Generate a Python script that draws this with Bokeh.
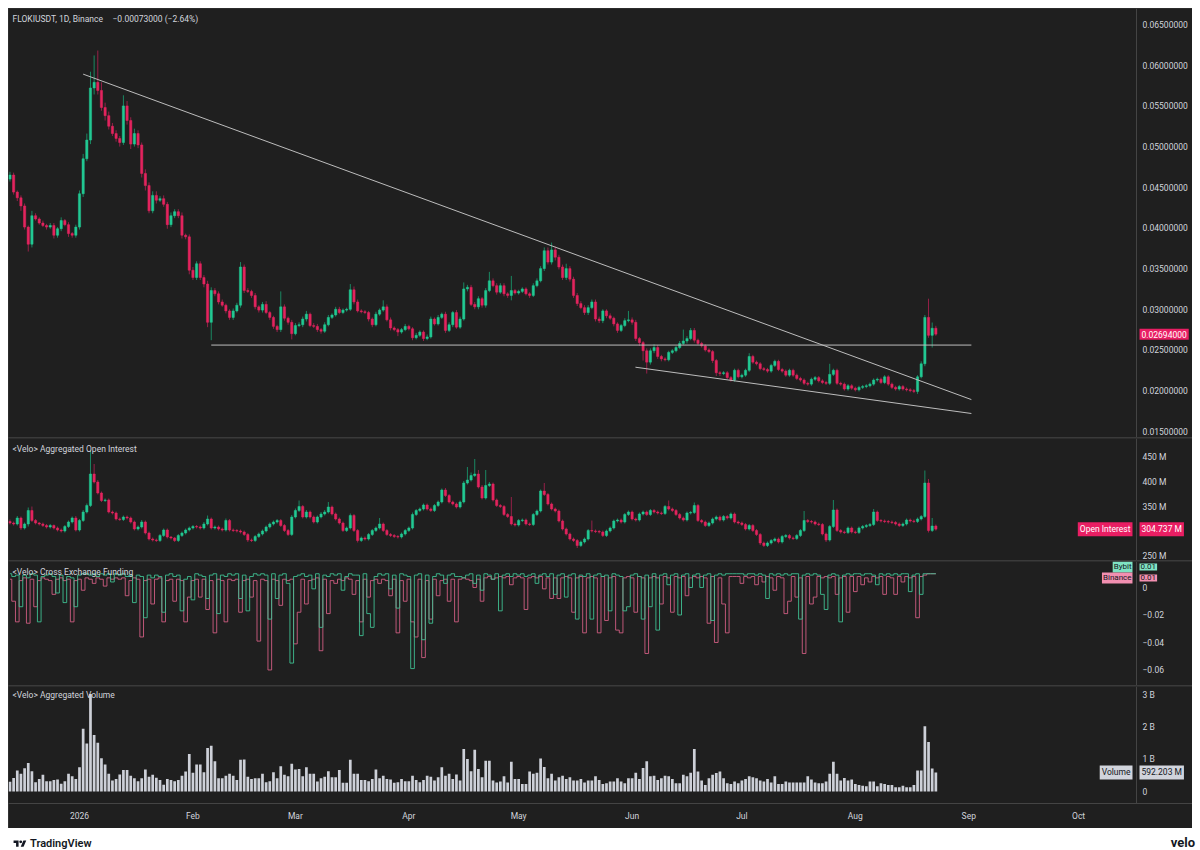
import datetime as dt
import numpy as np
from bokeh.plotting import figure
from bokeh.models import (Range1d, ColumnDataSource, Label, FixedTicker, NumeralTickFormatter,
                          Div, LinearAxis)
from bokeh.layouts import column
from bokeh.embed import file_html
from bokeh.resources import INLINE

# ---------------- data ----------------
symbol_title = "FLOKIUSDT, 1D, Binance"
change_text = "\u22120.00073000 (\u22122.64%)"
axis_origin_date = "2026-01-01"
first_candle_date = "2025-12-13"
view_days = (-19.4, 304.13)      # visible time window (incl. price-scale strip)
price_scale_day = 288.83         # where the price scale starts

month_tick_dates = ["2026-01-01", "2026-02-01", "2026-03-01", "2026-04-01", "2026-05-01",
                    "2026-06-01", "2026-07-01", "2026-08-01", "2026-09-01", "2026-10-01"]
month_tick_labels = ["2026", "Feb", "Mar", "Apr", "May", "Jun", "Jul", "Aug", "Sep", "Oct"]

price_ticks = [0.015, 0.020, 0.025, 0.030, 0.035, 0.040, 0.045, 0.050, 0.055, 0.060, 0.065]
oi_ticks = [250, 350, 400, 450]
oi_tick_labels = ["250 M", "350 M", "400 M", "450 M"]
funding_ticks = [0, -20, -40, -60]          # units of 0.001
funding_tick_labels = ["0", "\u22120.02", "\u22120.04", "\u22120.06"]
volume_ticks = [0, 1, 2, 3]                 # billions
volume_tick_labels = ["0", "1 B", "2 B", "3 B"]

price_first_open = 0.0460
price_close = [
    0.0465, 0.0444, 0.0437, 0.0427, 0.0401, 0.0380, 0.0415, 0.0411, 0.0406, 0.0403,
    0.0401, 0.0403, 0.0391, 0.0399, 0.0409, 0.0404, 0.0393, 0.0391, 0.0401,
    0.0442, 0.0485, 0.0508, 0.0572, 0.0579, 0.0569, 0.0548, 0.0538, 0.0525, 0.0516,
    0.0510, 0.0505, 0.0550, 0.0532, 0.0503, 0.0516, 0.0502, 0.0467, 0.0452, 0.0421,
    0.0440, 0.0434, 0.0436, 0.0429, 0.0404, 0.0415, 0.0420, 0.0415, 0.0391, 0.0389,
    0.0348, 0.0339, 0.0356, 0.0339, 0.0331, 0.0284, 0.0323, 0.0319, 0.0309, 0.0305,
    0.0298, 0.0290, 0.0298, 0.0305, 0.0352, 0.0323, 0.0322, 0.0317, 0.0303, 0.0299,
    0.0306, 0.0296, 0.0290, 0.0279, 0.0275, 0.0303, 0.0289, 0.0284, 0.0270, 0.0280,
    0.0281, 0.0288, 0.0294, 0.0280, 0.0279, 0.0275, 0.0273, 0.0281, 0.0290, 0.0293,
    0.0300, 0.0296, 0.0299, 0.0300, 0.0324, 0.0309, 0.0298, 0.0297, 0.0296, 0.0288,
    0.0281, 0.0294, 0.0299, 0.0303, 0.0287, 0.0277, 0.0275, 0.0272, 0.0275, 0.0279,
    0.0276, 0.0265, 0.0268, 0.0272, 0.0264, 0.0266, 0.0288, 0.0282, 0.0290, 0.0294,
    0.0274, 0.0281, 0.0296, 0.0278, 0.0288, 0.0325, 0.0327, 0.0306, 0.0303, 0.0313,
    0.0305, 0.0323, 0.0335, 0.0329, 0.0321, 0.0329, 0.0319, 0.0317, 0.0323, 0.0320,
    0.0322, 0.0325, 0.0319, 0.0317, 0.0329, 0.0335, 0.0350, 0.0372, 0.0358, 0.0373,
    0.0364, 0.0352, 0.0339, 0.0350, 0.0337, 0.0317, 0.0307, 0.0302, 0.0296, 0.0302,
    0.0309, 0.0288, 0.0286, 0.0298, 0.0292, 0.0289, 0.0282, 0.0274, 0.0280, 0.0286,
    0.0287, 0.0284, 0.0264, 0.0259, 0.0249, 0.0235, 0.0249, 0.0253, 0.0242, 0.0239,
    0.0238, 0.0247, 0.0249, 0.0253, 0.0258, 0.0261, 0.0264, 0.0274, 0.0262, 0.0258,
    0.0255, 0.0250, 0.0248, 0.0237, 0.0222, 0.0221, 0.0222, 0.0216, 0.0213, 0.0225,
    0.0217, 0.0219, 0.0225, 0.0242, 0.0235, 0.0233, 0.0227, 0.0226, 0.0224, 0.0231,
    0.0236, 0.0226, 0.0224, 0.0219, 0.0225, 0.0219, 0.0215, 0.0213, 0.0209, 0.0208,
    0.0214, 0.0216, 0.0212, 0.0210, 0.0209, 0.0220, 0.0225, 0.0209, 0.0208, 0.0202,
    0.0206, 0.0203, 0.0201, 0.0204, 0.0205, 0.0206, 0.0208, 0.0213, 0.0214, 0.0210,
    0.0217, 0.0208, 0.0204, 0.0202, 0.0205, 0.0202, 0.0201, 0.0200, 0.0199, 0.0217,
    0.0233, 0.0290, 0.0268, 0.02767, 0.02694]
# wick extents in units of 0.0001
price_wick_up = [
    4, 3, 2, 3, 3, 2, 6, 3, 2, 3,
    2, 3, 3, 2, 4, 2, 3, 2, 3,
    4, 6, 8, 20, 33, 39, 10, 6, 5, 4,
    4, 3, 13, 6, 4, 6, 4, 3, 5, 4,
    5, 5, 3, 4, 3, 4, 3, 3, 4, 2,
    3, 4, 3, 3, 3, 4, 4, 3, 3, 3,
    2, 2, 3, 3, 6, 3, 3, 2, 3, 2,
    3, 4, 2, 2, 2, 19, 3, 2, 3, 3,
    3, 3, 4, 2, 3, 3, 2, 3, 3, 2,
    3, 3, 2, 2, 7, 4, 3, 2, 2, 2,
    2, 3, 2, 8, 3, 3, 2, 2, 2, 3,
    2, 2, 3, 2, 2, 3, 3, 2, 3, 2,
    3, 3, 2, 3, 3, 8, 3, 3, 3, 3,
    2, 3, 11, 3, 3, 3, 3, 2, 18, 2,
    2, 2, 2, 2, 3, 3, 3, 4, 4, 9,
    4, 3, 3, 6, 3, 3, 3, 3, 3, 3,
    3, 3, 3, 2, 2, 3, 2, 2, 2, 3,
    11, 3, 3, 2, 2, 3, 3, 4, 3, 2,
    2, 2, 2, 2, 3, 14, 3, 3, 3, 2,
    2, 2, 2, 2, 2, 2, 2, 2, 2, 2,
    2, 2, 2, 4, 2, 2, 2, 2, 2, 2,
    2, 2, 2, 2, 2, 2, 2, 2, 2, 2,
    2, 2, 2, 2, 2, 13, 2, 2, 2, 2,
    2, 2, 2, 2, 2, 2, 2, 2, 2, 2,
    2, 2, 2, 2, 2, 2, 2, 2, 2, 2,
    3, 3, 23, 7, 3]
price_wick_dn = [
    3, 3, 4, 6, 3, 9, 4, 2, 2, 2,
    3, 2, 4, 3, 3, 2, 4, 3, 3,
    3, 4, 3, 5, 8, 5, 4, 6, 4, 3,
    4, 5, 3, 5, 6, 3, 4, 5, 6, 3,
    3, 4, 2, 3, 5, 3, 3, 3, 4, 3,
    5, 3, 3, 3, 4, 6, 22, 3, 3, 2,
    3, 3, 3, 2, 3, 3, 2, 3, 3, 3,
    3, 2, 3, 3, 3, 3, 3, 3, 7, 2,
    2, 3, 3, 2, 2, 3, 3, 2, 2, 2,
    2, 2, 2, 2, 2, 3, 2, 2, 2, 3,
    3, 2, 2, 2, 2, 3, 2, 5, 2, 2,
    2, 3, 2, 2, 3, 2, 2, 2, 2, 2,
    3, 2, 3, 2, 2, 2, 3, 2, 3, 3,
    3, 3, 2, 2, 3, 2, 3, 3, 6, 2,
    2, 2, 2, 3, 2, 2, 2, 3, 3, 3,
    4, 3, 3, 3, 3, 3, 3, 2, 3, 3,
    2, 3, 3, 3, 3, 2, 3, 3, 2, 2,
    2, 3, 3, 4, 12, 14, 3, 3, 3, 3,
    2, 2, 2, 2, 2, 2, 3, 2, 3, 2,
    2, 2, 2, 3, 4, 3, 2, 2, 2, 2,
    2, 2, 2, 2, 2, 2, 2, 2, 2, 2,
    2, 2, 2, 2, 2, 2, 2, 2, 2, 2,
    2, 2, 2, 2, 2, 2, 2, 2, 2, 2,
    2, 2, 2, 2, 2, 2, 2, 2, 2, 2,
    2, 2, 2, 2, 2, 2, 2, 2, 2, 3,
    2, 3, 3, 15, 2]

oi_first_open = 320
oi_close = [
    317, 315, 327, 307, 315, 342, 322, 317, 315, 312,
    309, 312, 307, 303, 301, 310, 319, 327, 303,
    322, 339, 352, 415, 399, 377, 362, 363, 339, 337,
    325, 324, 329, 327, 319, 305, 309, 319, 297, 285,
    283, 282, 292, 303, 289, 287, 282, 292, 297, 303,
    307, 310, 309, 307, 315, 325, 307, 309, 305, 303,
    322, 303, 302, 301, 299, 294, 283, 282, 290, 295,
    301, 309, 315, 319, 322, 312, 302, 294, 329, 342,
    350, 329, 339, 329, 319, 329, 335, 339, 349, 335,
    325, 317, 302, 307, 332, 302, 282, 287, 285, 294,
    302, 307, 315, 302, 294, 292, 290, 289, 295, 302,
    307, 334, 342, 345, 353, 345, 342, 352, 359, 383,
    372, 359, 355, 349, 359, 397, 403, 412, 415, 389,
    367, 392, 395, 363, 352, 350, 334, 330, 315, 313,
    322, 323, 315, 314, 334, 341, 381, 374, 355, 345,
    341, 321, 305, 295, 285, 282, 272, 279, 285, 302,
    301, 300, 299, 292, 301, 307, 321, 323, 319, 334,
    339, 325, 323, 335, 339, 334, 342, 339, 337, 336,
    350, 345, 342, 334, 327, 323, 337, 338, 352, 322,
    319, 312, 317, 325, 329, 323, 330, 327, 335, 319,
    317, 314, 305, 312, 302, 294, 277, 272, 277, 282,
    285, 279, 290, 292, 287, 286, 292, 302, 322, 320,
    319, 315, 314, 295, 283, 310, 343, 302, 299, 298,
    307, 299, 298, 307, 310, 312, 314, 339, 322, 321,
    320, 319, 318, 315, 312, 315, 323, 321, 320, 325,
    330, 397, 302, 311, 304.737]
# OI wicks in millions
oi_wick_up = [
    4, 3, 4, 3, 3, 6, 8, 3, 2, 3,
    3, 3, 2, 3, 3, 3, 3, 3, 4,
    3, 4, 4, 47, 20, 4, 3, 3, 3, 3,
    3, 3, 3, 3, 3, 3, 3, 4, 3, 3,
    3, 3, 3, 3, 3, 2, 2, 3, 3, 3,
    3, 3, 3, 3, 4, 7, 3, 3, 3, 3,
    4, 3, 3, 3, 3, 3, 3, 3, 3, 3,
    3, 3, 3, 3, 3, 3, 3, 3, 4, 4,
    12, 3, 4, 3, 3, 3, 4, 4, 10, 3,
    3, 3, 3, 3, 4, 3, 3, 3, 3, 3,
    3, 3, 12, 3, 3, 3, 3, 3, 3, 3,
    3, 4, 3, 3, 3, 3, 3, 3, 3, 3,
    4, 3, 3, 3, 3, 4, 26, 6, 30, 8,
    4, 31, 4, 3, 3, 3, 3, 3, 39, 3,
    3, 3, 3, 3, 3, 3, 3, 16, 3, 3,
    3, 3, 3, 3, 3, 3, 3, 3, 3, 3,
    20, 3, 3, 3, 3, 3, 3, 3, 3, 3,
    3, 3, 3, 3, 3, 3, 3, 3, 3, 3,
    3, 12, 3, 3, 3, 3, 3, 3, 6, 3,
    3, 3, 3, 3, 3, 3, 3, 3, 3, 3,
    3, 3, 3, 3, 3, 3, 3, 3, 3, 3,
    3, 3, 3, 3, 3, 3, 3, 3, 19, 3,
    3, 3, 3, 3, 3, 3, 20, 3, 3, 3,
    3, 3, 3, 3, 3, 3, 3, 6, 3, 3,
    3, 3, 3, 3, 3, 3, 3, 3, 3, 3,
    3, 25, 8, 16, 3]
oi_wick_dn = [
    3, 3, 3, 4, 3, 5, 3, 3, 3, 3,
    3, 3, 3, 3, 3, 3, 3, 3, 3,
    3, 3, 3, 3, 3, 3, 3, 3, 3, 3,
    3, 3, 3, 3, 3, 3, 3, 3, 3, 3,
    3, 3, 3, 3, 3, 3, 3, 3, 3, 3,
    3, 3, 3, 3, 3, 3, 3, 3, 3, 3,
    3, 3, 3, 3, 3, 3, 4, 3, 3, 3,
    3, 3, 3, 3, 3, 3, 3, 3, 3, 3,
    3, 3, 3, 3, 3, 3, 3, 3, 3, 3,
    3, 3, 3, 3, 3, 3, 4, 3, 3, 3,
    3, 3, 3, 3, 3, 3, 3, 3, 3, 3,
    3, 3, 3, 3, 3, 3, 3, 3, 3, 3,
    3, 3, 3, 3, 3, 3, 3, 3, 3, 3,
    3, 3, 3, 3, 3, 3, 3, 3, 3, 3,
    3, 3, 3, 3, 3, 3, 3, 3, 3, 3,
    3, 3, 3, 3, 3, 3, 5, 3, 3, 3,
    3, 3, 3, 3, 3, 3, 3, 3, 3, 3,
    3, 3, 3, 3, 3, 3, 3, 3, 3, 3,
    3, 3, 3, 3, 3, 3, 3, 3, 3, 3,
    3, 3, 3, 3, 3, 3, 3, 3, 3, 3,
    3, 3, 3, 3, 3, 3, 4, 3, 3, 3,
    3, 3, 3, 3, 3, 3, 3, 3, 3, 3,
    3, 3, 3, 3, 4, 3, 3, 3, 3, 3,
    3, 3, 3, 3, 3, 3, 3, 3, 3, 3,
    3, 3, 3, 3, 3, 3, 3, 3, 3, 3,
    3, 3, 4, 3, 3]

# funding rates in units of 0.001 (%)
bybit_funding = [
    10, 8, 9, -14, 9, 7, 10, 9, -25, 8,
    9, 10, 8, -4, 9, -11, 8, 7, -14,
    9, 10, 10, 9, 10, 8, 10, 9, 10, 4,
    10, 9, 10, 8, 9, -11, 9, 8, -22, 9,
    7, 9, 8, -18, 9, 10, 8, 9, -17, 6,
    8, -9, 10, 9, 8, -8, 9, 10, -19, 9,
    8, 10, 9, 10, -8, 9, -17, 8, 10, 9,
    10, 9, -23, 10, -8, 9, 10, 3, -55, 8,
    9, 10, 8, 9, -1, 10, -29, 9, 8, 10,
    9, 10, -2, 8, 10, 9, 9, -35, 10, -19,
    -29, 8, 10, 9, 10, -1, 9, -15, 10, 9,
    8, -59, 9, 10, -38, 9, -26, 8, 10, 9,
    3, 9, 10, 8, 8, 7, 9, 10, 3, 9,
    -2, 10, 9, 6, 10, -17, 9, 10, 8, 10,
    9, 10, 8, 9, 10, 3, 9, 10, 8, 10,
    -5, 9, 10, -7, 9, 10, -23, 9, 8, 10,
    -23, 9, 10, 8, 9, -17, 10, 9, 8, -17,
    -14, 9, 10, 8, -23, 9, -14, 10, -31, 9,
    10, 2, 9, 10, -20, 9, 10, 0, 9, 10,
    0, 9, 10, -24, 9, 10, 9, 10, 10, 10,
    10, 10, 9, 10, 10, 9, 10, 9, -8, 10,
    9, 10, 9, 10, 9, 10, 10, -23, 9, 10,
    9, 10, 9, -5, -16, 9, 10, 9, -25, 9,
    10, 9, 10, 10, 9, 10, 10, 9, 2, 10,
    9, 10, 9, 10, 9, 10, 10, -3, 9, 10,
    -5, 10, 10, 10, 10]
binance_funding = [
    6, -10, -25, 5, 7, -26, 6, -14, 5, 7,
    6, 5, -5, 6, 7, 5, 6, -25, 5,
    6, -2, 7, 6, 3, 7, 6, 1, 7, 6,
    7, 6, 7, -6, 5, 7, 6, -36, 5, 6,
    -12, 6, 7, -25, 5, 6, -10, 6, 5, -25,
    -7, 5, 6, -7, 6, -16, 5, -33, 6, 5,
    -25, 6, 5, 6, -18, 5, 6, -7, 5, -39,
    6, 5, -60, 6, 5, -13, 6, 5, 6, -41,
    -18, 6, -12, 5, 6, 7, -46, 6, -19, 5,
    3, 6, 5, 7, 6, -5, 5, -25, 6, -7,
    5, 6, 3, 6, 5, -6, 6, -33, 5, -10,
    6, -25, -36, 6, -51, 5, -23, 6, -6, 5,
    6, -10, 6, -25, 6, 7, 6, 5, 0, 6,
    -10, 7, 8, 6, 7, 8, 7, 8, 2, 7,
    8, 7, -16, 7, 8, 7, 8, -1, 7, -8,
    7, -8, 7, 8, 7, -18, 7, 8, -33, 7,
    8, 7, -33, 8, -24, 7, 8, -31, -33, 7,
    8, 7, -18, 8, 7, -48, 7, 8, 7, -12,
    8, 7, -18, 8, 7, 8, -6, 7, 8, 7,
    8, 7, -26, 8, -40, 7, -12, -33, 8, 8,
    8, 3, 8, 7, 8, 2, 8, 4, 8, 7,
    -2, 8, 7, -19, -10, 8, -7, 7, -48, 8,
    -12, -7, 8, 7, 8, 7, 8, -5, 7, 8,
    -18, 8, -3, 8, 2, 7, 4, 8, 7, 8,
    -5, 8, 7, -5, 8, 4, 8, 7, 8, -22,
    8, 9, 10, 10, 10]

# aggregated volume, billions
volume_b = [
    0.30, 0.42, 0.65, 0.55, 0.72, 0.88, 0.63, 0.29, 0.39, 0.52,
    0.32, 0.32, 0.36, 0.37, 0.24, 0.32, 0.55, 0.47, 0.39,
    0.75, 1.94, 1.49, 3.02, 1.75, 1.51, 1.03, 0.84, 0.55, 0.34,
    0.39, 0.53, 0.67, 0.67, 0.49, 0.41, 0.32, 0.41, 0.68, 0.46,
    0.52, 0.43, 0.36, 0.21, 0.39, 0.36, 0.32, 0.36, 0.49, 0.62,
    1.16, 0.58, 0.84, 0.84, 0.60, 1.35, 1.42, 0.94, 0.41, 0.41,
    0.49, 0.55, 0.49, 0.36, 0.98, 0.99, 0.46, 0.39, 0.41, 0.41,
    0.55, 0.29, 0.32, 0.60, 0.41, 0.78, 0.52, 0.47, 0.86, 0.68,
    0.70, 0.47, 0.75, 0.55, 0.55, 0.31, 0.41, 0.46, 0.63, 0.44,
    0.44, 0.67, 0.27, 0.27, 0.98, 0.55, 0.55, 0.36, 0.36, 0.32,
    0.39, 0.68, 0.41, 0.49, 0.39, 0.37, 0.27, 0.29, 0.39, 0.32,
    0.32, 0.49, 0.36, 0.29, 0.36, 0.49, 0.46, 0.34, 0.44, 0.75,
    0.49, 0.55, 0.39, 0.53, 0.34, 1.32, 1.01, 0.63, 1.29, 0.70,
    0.44, 0.95, 0.95, 0.34, 0.28, 0.31, 0.47, 0.28, 0.92, 0.39,
    0.39, 0.23, 0.23, 0.62, 0.55, 0.58, 1.02, 0.76, 0.41, 0.55,
    0.34, 0.44, 0.49, 0.39, 0.44, 0.34, 0.34, 0.39, 0.28, 0.34,
    0.34, 0.47, 0.36, 0.23, 0.26, 0.31, 0.31, 0.41, 0.31, 0.26,
    0.41, 0.41, 0.58, 0.39, 0.73, 0.94, 0.47, 0.49, 0.36, 0.41,
    0.49, 0.47, 0.39, 0.26, 0.26, 0.52, 0.47, 0.58, 1.32, 0.62,
    0.34, 0.20, 0.41, 0.52, 0.57, 0.62, 0.41, 0.26, 0.23, 0.31,
    0.26, 0.34, 0.39, 0.47, 0.44, 0.41, 0.34, 0.31, 0.39, 0.28,
    0.47, 0.23, 0.23, 0.31, 0.28, 0.28, 0.28, 0.28, 0.28, 0.47,
    0.37, 0.28, 0.26, 0.26, 0.31, 0.55, 0.92, 0.55, 0.34, 0.42,
    0.34, 0.37, 0.23, 0.20, 0.18, 0.16, 0.31, 0.31, 0.16, 0.26,
    0.23, 0.20, 0.20, 0.13, 0.13, 0.18, 0.13, 0.13, 0.20, 0.65,
    0.65, 2.02, 1.53, 0.71, 0.592203]

# drawn trend lines: (datetime, price)
resistance_line = [("2026-01-02 00:00", 0.0589), ("2026-09-01 17:00", 0.0189)]
support_line = [("2026-02-06 00:00", 0.0256), ("2026-09-01 17:00", 0.0256)]
wedge_low_line = [("2026-06-01 22:00", 0.02288), ("2026-09-01 17:00", 0.01719)]

last_price_text = "0.02694000"
last_oi_text = "304.737 M"
last_volume_text = "592.203 M"
funding_last_text = "0.01"
# tag positions (funding units) nudged apart as the chart does
bybit_tag_y = 14.9
binance_tag_y = 6.9

# ---------------- styling ----------------
BG = "#1f1f1f"
TXT = "#d1d4dc"
UP = "#22c993"
DN = "#e3245e"
UPW = "#1a8862"
DNW = "#952048"
FONT = "Roboto"
FS = "8.5px"
FRAME_W = 1184
SCALE_X = 1128   # screen x (in frame) of the price scale line


def day_of(s):
    a = dt.datetime.fromisoformat(axis_origin_date)
    b = dt.datetime.fromisoformat(s)
    return (b - a).total_seconds() / 86400.0


n = len(price_close)
days = day_of(first_candle_date) + np.arange(n)
month_days = [int(round(day_of(s))) for s in month_tick_dates]

xr = Range1d(*view_days)


def panel(fh, yr, bottom=0, xaxis=False):
    p = figure(frame_width=FRAME_W, frame_height=fh, x_range=xr, y_range=yr,
               output_backend="svg", toolbar_location=None,
               y_axis_location=None, x_axis_location="below" if xaxis else None,
               min_border_left=0, min_border_right=0, min_border_top=0,
               min_border_bottom=bottom, background_fill_color=BG,
               border_fill_color=BG, outline_line_color=None)
    p.grid.grid_line_color = None
    return p


def add_yaxis(p, ticks, overrides=None, formatter=None):
    ax = LinearAxis(ticker=FixedTicker(ticks=ticks), fixed_location=price_scale_day)
    if formatter is not None:
        ax.formatter = formatter
    if overrides is not None:
        ax.major_label_overrides = overrides
    ax.axis_line_color = "#444444"
    ax.major_tick_line_color = None
    ax.minor_tick_line_color = None
    ax.major_tick_out = 0
    ax.major_tick_in = 0
    ax.major_label_text_color = TXT
    ax.major_label_text_font = FONT
    ax.major_label_text_font_size = FS
    ax.major_label_standoff = 6
    p.add_layout(ax, "right")


def candles(p, closes, first_open, up, dn, scale):
    c = np.array(closes, dtype=float)
    o = np.concatenate([[first_open], c[:-1]])
    hi = np.maximum(o, c) + np.array(up) * scale
    lo = np.minimum(o, c) - np.array(dn) * scale
    rising = c >= o
    src = ColumnDataSource(dict(
        x=days, top=np.maximum(o, c), bot=np.minimum(o, c), hi=hi, lo=lo,
        fill=[UP if r else DN for r in rising],
        wick=[UPW if r else DNW for r in rising]))
    p.segment(x0="x", y0="lo", x1="x", y1="hi", line_color="wick", line_width=1, source=src)
    p.vbar(x="x", top="top", bottom="bot", width=0.62, fill_color="fill",
           line_color="fill", line_width=0.5, source=src)


def text(p, x, y, s):
    p.add_layout(Label(x=x, y=y, x_units="screen", y_units="data", text=s,
                       text_color=TXT, text_font=FONT, text_font_size=FS,
                       text_align="left", text_baseline="middle"))


def tag(p, x, y, s, bg, fg, align="left", size=FS, pad=2):
    p.add_layout(Label(x=x, y=y, x_units="screen", y_units="data", text=s,
                       text_color=fg, text_font=FONT, text_font_size=size,
                       text_align=align, text_baseline="middle",
                       background_fill_color=bg, padding=pad))


# ---- price panel ----
pp = panel(429, Range1d(0.01424, 0.06697))
candles(pp, price_close, price_first_open, price_wick_up, price_wick_dn, 1e-4)
for line in (resistance_line, support_line, wedge_low_line):
    pp.line([day_of(a) for a, _ in line], [b for _, b in line], line_color="#bdbdbd", line_width=1)
add_yaxis(pp, price_ticks, formatter=NumeralTickFormatter(format="0.00000000"))
text(pp, 4, 0.06574, symbol_title)
text(pp, 104, 0.06574, change_text)
tag(pp, SCALE_X + 3, price_close[-1], last_price_text, "#e91e63", "#ffffff")

# ---- open interest panel ----
po = panel(122, Range1d(242, 486))
candles(po, oi_close, oi_first_open, oi_wick_up, oi_wick_dn, 1.0)
add_yaxis(po, oi_ticks, overrides=dict(zip(oi_ticks, oi_tick_labels)))
text(po, 4, 466, "<Velo> Aggregated Open Interest")
tag(po, SCALE_X - 4, oi_close[-1], "Open Interest", "#e91e63", "#ffffff", align="right")
tag(po, SCALE_X + 3, oi_close[-1], last_oi_text, "#e91e63", "#ffffff")

# ---- funding panel ----
pf = panel(124, Range1d(-71.3, 18.9))
pf.step(x=days, y=binance_funding, mode="center", line_color="#cf5d82", line_width=1, line_alpha=0.9)
pf.step(x=days, y=bybit_funding, mode="center", line_color="#3fbf91", line_width=1, line_alpha=0.9)
add_yaxis(pf, funding_ticks, overrides=dict(zip(funding_ticks, funding_tick_labels)))
text(pf, 4, 11.6, "<Velo> Cross Exchange Funding")
tag(pf, SCALE_X - 4, bybit_tag_y, "Bybit", "#7fe3c3", "#131722", align="right", size="8px", pad=1)
tag(pf, SCALE_X + 3, bybit_tag_y, funding_last_text, "#7fe3c3", "#131722", size="8px", pad=1)
tag(pf, SCALE_X - 4, binance_tag_y, "Binance", "#f28fb0", "#131722", align="right", size="8px", pad=1)
tag(pf, SCALE_X + 3, binance_tag_y, funding_last_text, "#f28fb0", "#131722", size="8px", pad=1)

# ---- volume panel ----
pv = panel(117, Range1d(-0.37, 3.25), bottom=25, xaxis=True)
pv.vbar(x=days, top=volume_b, bottom=0, width=0.74, fill_color="#cdd0d8", line_color=None)
xa = pv.xaxis[0]
xa.ticker = FixedTicker(ticks=month_days)
xa.major_label_overrides = dict(zip(month_days, month_tick_labels))
xa.axis_line_color = "#444444"
xa.major_tick_line_color = None
xa.minor_tick_line_color = None
xa.major_tick_out = 0
xa.major_tick_in = 0
xa.major_label_text_color = TXT
xa.major_label_text_font = FONT
xa.major_label_text_font_size = FS
xa.major_label_standoff = 7
add_yaxis(pv, volume_ticks, overrides=dict(zip(volume_ticks, volume_tick_labels)))
text(pv, 4, 3.0, "<Velo> Aggregated Volume")
tag(pv, SCALE_X - 4, volume_b[-1], "Volume", "#d1d4dc", "#131722", align="right")
tag(pv, SCALE_X + 3, volume_b[-1], last_volume_text, "#d1d4dc", "#131722")

charts = column(pp, po, pf, pv, spacing=1, styles={"background-color": "#3a3a3a"})

footer = Div(width=FRAME_W, height=14, text=(
    '<div style="position:relative;width:1184px;height:14px;font-family:Roboto,sans-serif;color:#131722;overflow:visible;">'
    '<div style="position:absolute;left:0px;top:3px;display:flex;align-items:center;gap:3px;font-size:11px;font-weight:600;">'
    '<svg width="14" height="10" viewBox="0 0 36 28"><path d="M14 22H7V11H0V4h14v18zM28 22h-8l7.5-18h8L28 22z" fill="#131722"/>'
    '<circle cx="20" cy="8" r="4" fill="#131722"/></svg>TradingView</div>'
    '<div style="position:absolute;right:2px;top:1px;font-size:13px;font-weight:700;">velo</div>'
    '</div>'))

layout = column(charts, footer, spacing=0, styles={"margin-left": "8px", "margin-top": "8px"})

open("out.html", "w").write(file_html(layout, INLINE))
